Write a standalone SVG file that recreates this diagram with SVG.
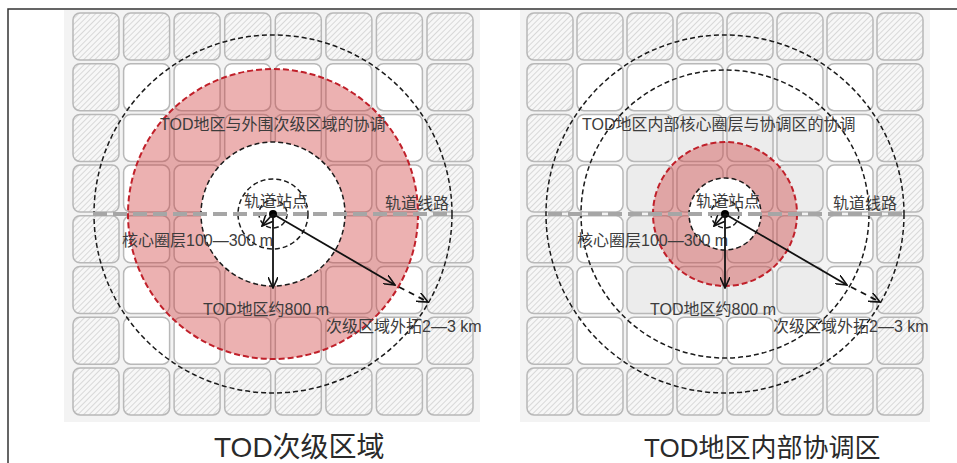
<svg xmlns="http://www.w3.org/2000/svg" xmlns:xlink="http://www.w3.org/1999/xlink" width="957" height="463" viewBox="0 0 957 463">
<style>
.bg{fill:#f3f3f3}
.tl use{stroke:#b8b8b8;stroke-width:1.5}
.h{fill:url(#hatch)}
.w{fill:#fff}
.g{fill:#ececec}
.kd{fill:none;stroke:#1a1a1a;stroke-width:1.5;stroke-dasharray:5 3}
.rd{fill:#cc3333;fill-opacity:0.38;stroke:#c0202a;stroke-width:2;stroke-dasharray:6 3}
.wd{fill:#fff;stroke:#1a1a1a;stroke-width:1.5;stroke-dasharray:5 3}
.rail{stroke:#a6a6a6;stroke-width:4;stroke-dasharray:14 6;fill:none}
.lbl{font-family:"Liberation Sans","Noto Sans CJK SC",sans-serif;font-size:16px;fill:#3c3c3c}
.ttl{font-family:"Liberation Sans","Noto Sans CJK SC",sans-serif;fill:#2a2a2a}
.ar{stroke:#111;stroke-width:1.8;fill:none}
.ard{stroke:#111;stroke-width:1.8;fill:none;stroke-dasharray:6 5}
</style>
<defs>
<pattern id="hatch" patternUnits="userSpaceOnUse" width="4" height="4" patternTransform="rotate(45)">
<rect width="4" height="4" fill="#f7f7f7"/>
<line x1="0" y1="0" x2="0" y2="4" stroke="#c8c8c8" stroke-width="1.3"/>
</pattern>
<rect id="tile" width="46" height="47" rx="7"/>
<marker id="arr" viewBox="0 0 12 10" refX="11" refY="5" markerWidth="12" markerHeight="10" markerUnits="userSpaceOnUse" orient="auto">
<path d="M0,0 L11,5 L0,10" fill="none" stroke="#111" stroke-width="1.6"/>
</marker>
</defs>

<rect width="957" height="463" fill="#fff"/>
<path d="M8,463 V9 H957" fill="none" stroke="#333" stroke-width="1.5"/>

<g id="panel-left">
<rect class="bg" x="64" y="10" width="416" height="412"/>
<g class="tl">
<g transform="translate(0,13)"><use href="#tile" class="h" x="73"/><use href="#tile" class="h" x="123.6"/><use href="#tile" class="h" x="174.1"/><use href="#tile" class="h" x="224.7"/><use href="#tile" class="h" x="275.3"/><use href="#tile" class="h" x="325.9"/><use href="#tile" class="h" x="376.4"/><use href="#tile" class="h" x="427"/></g>
<g transform="translate(0,63.7)"><use href="#tile" class="h" x="73"/><use href="#tile" class="w" x="123.6"/><use href="#tile" class="w" x="174.1"/><use href="#tile" class="w" x="224.7"/><use href="#tile" class="w" x="275.3"/><use href="#tile" class="w" x="325.9"/><use href="#tile" class="w" x="376.4"/><use href="#tile" class="h" x="427"/></g>
<g transform="translate(0,114.4)"><use href="#tile" class="h" x="73"/><use href="#tile" class="w" x="123.6"/><use href="#tile" class="w" x="174.1"/><use href="#tile" class="w" x="224.7"/><use href="#tile" class="w" x="275.3"/><use href="#tile" class="w" x="325.9"/><use href="#tile" class="w" x="376.4"/><use href="#tile" class="h" x="427"/></g>
<g transform="translate(0,165.1)"><use href="#tile" class="h" x="73"/><use href="#tile" class="w" x="123.6"/><use href="#tile" class="w" x="174.1"/><use href="#tile" class="w" x="224.7"/><use href="#tile" class="w" x="275.3"/><use href="#tile" class="w" x="325.9"/><use href="#tile" class="w" x="376.4"/><use href="#tile" class="h" x="427"/></g>
<g transform="translate(0,215.8)"><use href="#tile" class="h" x="73"/><use href="#tile" class="w" x="123.6"/><use href="#tile" class="w" x="174.1"/><use href="#tile" class="w" x="224.7"/><use href="#tile" class="w" x="275.3"/><use href="#tile" class="w" x="325.9"/><use href="#tile" class="w" x="376.4"/><use href="#tile" class="h" x="427"/></g>
<g transform="translate(0,266.5)"><use href="#tile" class="h" x="73"/><use href="#tile" class="w" x="123.6"/><use href="#tile" class="w" x="174.1"/><use href="#tile" class="w" x="224.7"/><use href="#tile" class="w" x="275.3"/><use href="#tile" class="w" x="325.9"/><use href="#tile" class="w" x="376.4"/><use href="#tile" class="h" x="427"/></g>
<g transform="translate(0,317.2)"><use href="#tile" class="h" x="73"/><use href="#tile" class="w" x="123.6"/><use href="#tile" class="w" x="174.1"/><use href="#tile" class="w" x="224.7"/><use href="#tile" class="w" x="275.3"/><use href="#tile" class="w" x="325.9"/><use href="#tile" class="w" x="376.4"/><use href="#tile" class="h" x="427"/></g>
<g transform="translate(0,367.9)"><use href="#tile" class="h" x="73"/><use href="#tile" class="h" x="123.6"/><use href="#tile" class="h" x="174.1"/><use href="#tile" class="h" x="224.7"/><use href="#tile" class="h" x="275.3"/><use href="#tile" class="h" x="325.9"/><use href="#tile" class="h" x="376.4"/><use href="#tile" class="h" x="427"/></g>
</g>
<circle class="kd" cx="273" cy="214" r="179"/>
<circle class="rd" cx="273" cy="214" r="145"/>
<circle class="wd" cx="273" cy="214" r="72"/>
<circle class="kd" cx="273" cy="214" r="35"/>
<circle class="kd" cx="273" cy="214" r="14"/>
<line class="rail" x1="93" y1="214" x2="450" y2="214"/>
<circle cx="273" cy="214" r="4" fill="#000"/>
<text class="lbl" x="160" y="130">TOD地区与外围次级区域的协调</text>
<text class="lbl" x="276" y="207" text-anchor="middle">轨道站点</text>
<text class="lbl" x="385" y="209">轨道线路</text>
<text class="lbl" x="122" y="246">核心圈层100—300 m</text>
<text class="lbl" x="203" y="315">TOD地区约800 m</text>
<text class="lbl" x="326" y="332">次级区域外拓2—3 km</text>
</g>

<g id="panel-right">
<rect class="bg" x="520" y="10" width="410" height="412"/>
<g class="tl">
<g transform="translate(0,13)"><use href="#tile" class="h" x="527"/><use href="#tile" class="h" x="577"/><use href="#tile" class="h" x="627"/><use href="#tile" class="h" x="677"/><use href="#tile" class="h" x="727"/><use href="#tile" class="h" x="777"/><use href="#tile" class="h" x="827"/><use href="#tile" class="h" x="877"/></g>
<g transform="translate(0,63.7)"><use href="#tile" class="h" x="527"/><use href="#tile" class="w" x="577"/><use href="#tile" class="w" x="627"/><use href="#tile" class="w" x="677"/><use href="#tile" class="w" x="727"/><use href="#tile" class="w" x="777"/><use href="#tile" class="w" x="827"/><use href="#tile" class="h" x="877"/></g>
<g transform="translate(0,114.4)"><use href="#tile" class="h" x="527"/><use href="#tile" class="w" x="577"/><use href="#tile" class="g" x="627"/><use href="#tile" class="g" x="677"/><use href="#tile" class="g" x="727"/><use href="#tile" class="g" x="777"/><use href="#tile" class="w" x="827"/><use href="#tile" class="h" x="877"/></g>
<g transform="translate(0,165.1)"><use href="#tile" class="h" x="527"/><use href="#tile" class="w" x="577"/><use href="#tile" class="g" x="627"/><use href="#tile" class="g" x="677"/><use href="#tile" class="g" x="727"/><use href="#tile" class="g" x="777"/><use href="#tile" class="w" x="827"/><use href="#tile" class="h" x="877"/></g>
<g transform="translate(0,215.8)"><use href="#tile" class="h" x="527"/><use href="#tile" class="w" x="577"/><use href="#tile" class="g" x="627"/><use href="#tile" class="g" x="677"/><use href="#tile" class="g" x="727"/><use href="#tile" class="g" x="777"/><use href="#tile" class="w" x="827"/><use href="#tile" class="h" x="877"/></g>
<g transform="translate(0,266.5)"><use href="#tile" class="h" x="527"/><use href="#tile" class="w" x="577"/><use href="#tile" class="g" x="627"/><use href="#tile" class="g" x="677"/><use href="#tile" class="g" x="727"/><use href="#tile" class="g" x="777"/><use href="#tile" class="w" x="827"/><use href="#tile" class="h" x="877"/></g>
<g transform="translate(0,317.2)"><use href="#tile" class="h" x="527"/><use href="#tile" class="w" x="577"/><use href="#tile" class="w" x="627"/><use href="#tile" class="w" x="677"/><use href="#tile" class="w" x="727"/><use href="#tile" class="w" x="777"/><use href="#tile" class="w" x="827"/><use href="#tile" class="h" x="877"/></g>
<g transform="translate(0,367.9)"><use href="#tile" class="h" x="527"/><use href="#tile" class="h" x="577"/><use href="#tile" class="h" x="627"/><use href="#tile" class="h" x="677"/><use href="#tile" class="h" x="727"/><use href="#tile" class="h" x="777"/><use href="#tile" class="h" x="827"/><use href="#tile" class="h" x="877"/></g>
</g>
<circle class="kd" cx="725" cy="214" r="179"/>
<circle class="kd" cx="725" cy="214" r="144"/>
<circle class="rd" cx="725" cy="214" r="72"/>
<circle class="wd" cx="725" cy="214" r="36"/>
<circle class="kd" cx="725" cy="214" r="14"/>
<line class="rail" x1="548" y1="214" x2="903" y2="214"/>
<circle cx="725" cy="214" r="4" fill="#000"/>
<text class="lbl" x="582" y="130">TOD地区内部核心圈层与协调区的协调</text>
<text class="lbl" x="728" y="207" text-anchor="middle">轨道站点</text>
<text class="lbl" x="833" y="209">轨道线路</text>
<text class="lbl" x="577" y="246">核心圈层100—300 m</text>
<text class="lbl" x="650" y="315">TOD地区约800 m</text>
<text class="lbl" x="773" y="332">次级区域外拓2—3 km</text>
</g>

<g id="connectors">
<line class="ar" x1="273" y1="214" x2="273" y2="288" marker-end="url(#arr)"/>
<line class="ar" x1="273" y1="214" x2="262" y2="226" marker-end="url(#arr)"/>
<line class="ar" x1="273" y1="214" x2="395" y2="285" marker-end="url(#arr)"/>
<line class="ard" x1="399" y1="287" x2="428" y2="302" marker-end="url(#arr)"/>
<line class="ar" x1="725" y1="214" x2="725" y2="288" marker-end="url(#arr)"/>
<line class="ar" x1="725" y1="214" x2="714" y2="226" marker-end="url(#arr)"/>
<line class="ar" x1="725" y1="214" x2="847" y2="285" marker-end="url(#arr)"/>
<line class="ard" x1="851" y1="287" x2="880" y2="302" marker-end="url(#arr)"/>
</g>

<g id="titles">
<text class="ttl" x="214" y="457" font-size="28">TOD次级区域</text>
<text class="ttl" x="644" y="457" font-size="26">TOD地区内部协调区</text>
</g>
</svg>
